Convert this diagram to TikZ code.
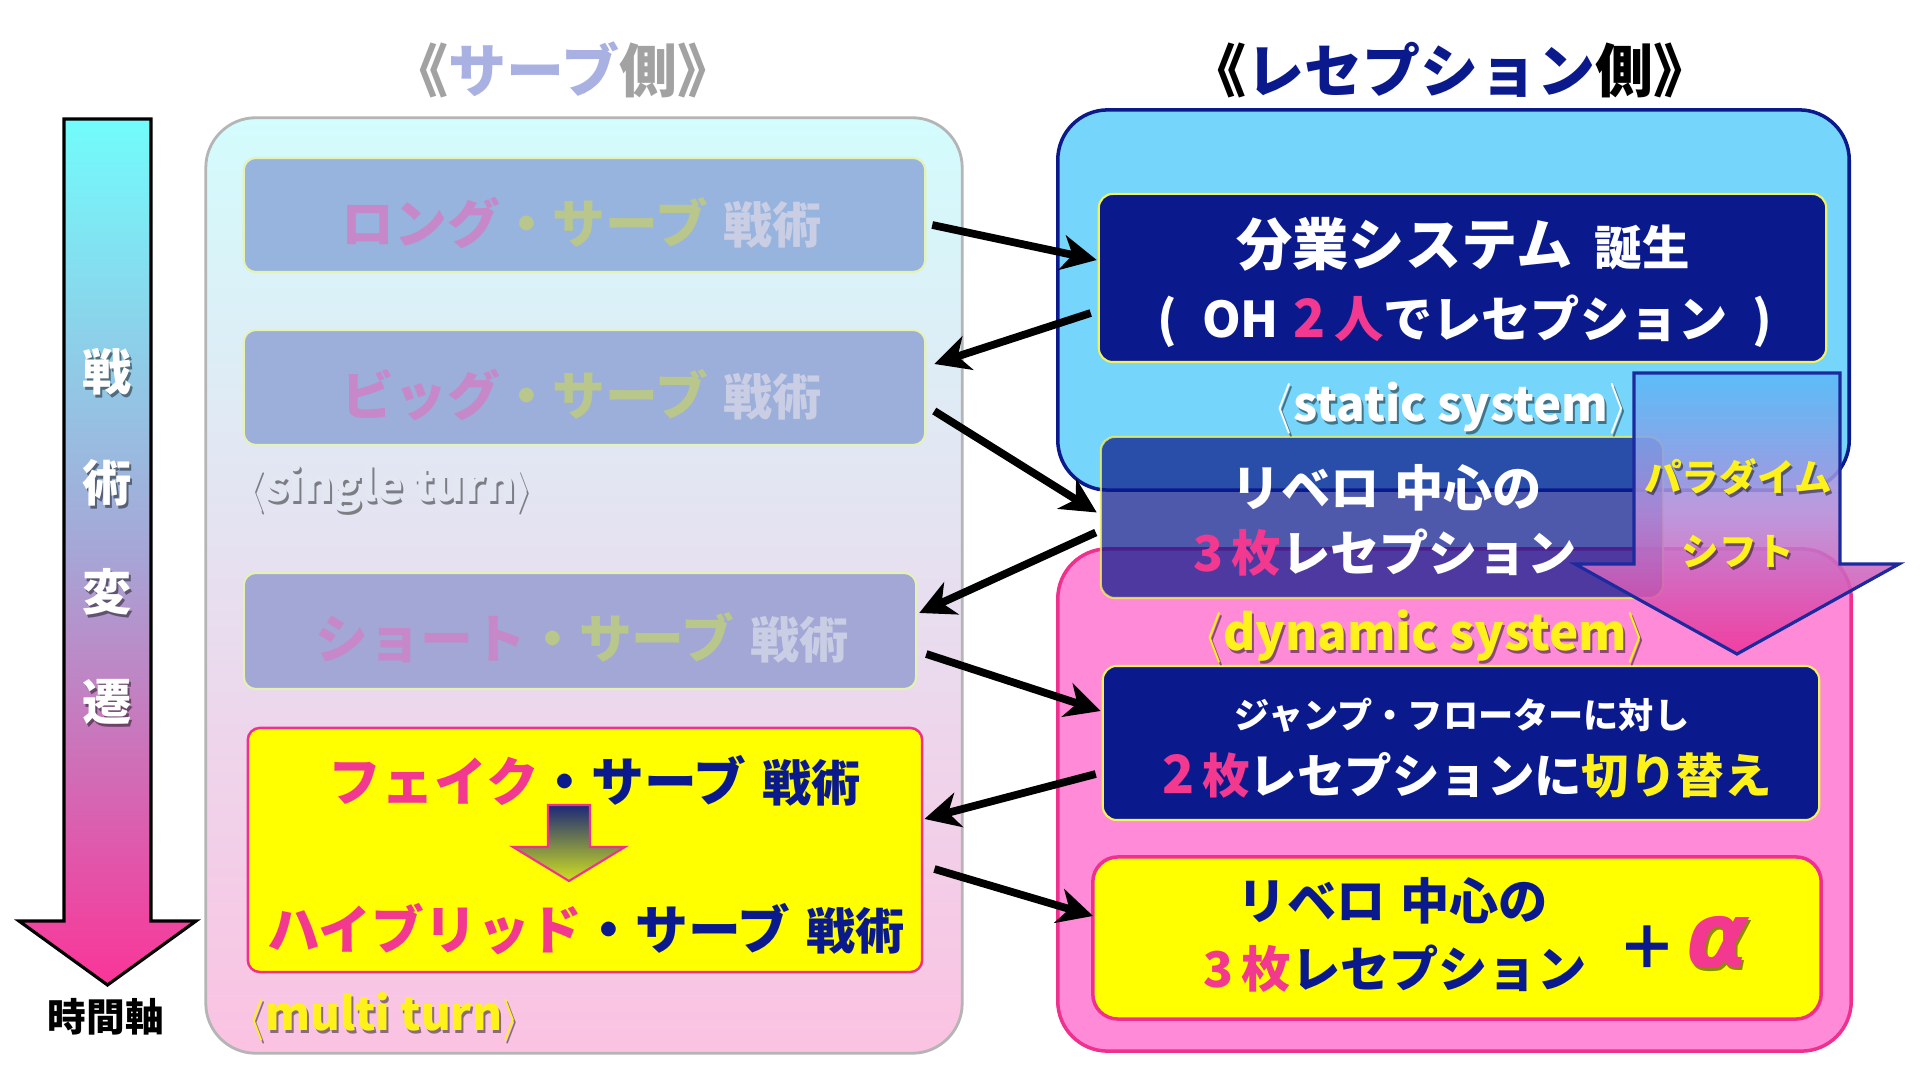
\documentclass[tikz,border=0pt]{standalone}
\usepackage{fontspec}
\setmainfont{Noto Sans CJK JP}
\newfontfamily\dejavu{DejaVu Sans}
\usetikzlibrary{arrows.meta}
\definecolor{navy}{HTML}{0A1A8C}
\definecolor{hotpink}{HTML}{F2388F}
\definecolor{yel}{HTML}{FFFF00}
\definecolor{ytext}{HTML}{FFF21A}
\definecolor{sky}{HTML}{76D5FB}
\definecolor{pinkbox}{HTML}{FF8AD8}
\definecolor{pinkedge}{HTML}{F0308E}
\definecolor{boxyedge}{HTML}{F2F25A}
\definecolor{paraedge}{HTML}{1C2A9E}
\definecolor{leftTop}{HTML}{D3FCFD}
\definecolor{leftBot}{HTML}{FBC2E2}
\definecolor{leftedge}{HTML}{B5B5B5}
\definecolor{fbA}{HTML}{97B4DE}
\definecolor{fbB}{HTML}{9CAEDA}
\definecolor{fbC}{HTML}{A2A7D6}
\definecolor{fbedge}{HTML}{E6F2B2}
\definecolor{fpink}{HTML}{C688C8}
\definecolor{folive}{HTML}{B9C68C}
\definecolor{fgray}{HTML}{C9CEE4}
\definecolor{tgray}{HTML}{A2A2A2}
\definecolor{tlav}{HTML}{A9B1E2}
\definecolor{axTop}{HTML}{72FCFC}
\definecolor{axMid}{HTML}{A6A6D6}
\definecolor{axBot}{HTML}{FA3598}
\definecolor{pTop}{HTML}{58BAF8}
\definecolor{pMid}{HTML}{B58AD8}
\definecolor{pBot}{HTML}{F0359A}
\definecolor{saTop}{HTML}{1C2878}
\definecolor{saBot}{HTML}{D0E020}
\definecolor{singlec}{HTML}{E3E7F2}
\newcommand\fsz[1]{\fontsize{#1}{#1}\selectfont}
\newcommand\shnode[6]{%
  \node[#4, text=black, text opacity=0.45] (#1-s) at ({#2+2},{#3+3}) {#6};
  \node[#4, text=#5] (#1) at (#2,#3) {#6};}
\begin{document}
\begin{tikzpicture}[x=0.01cm,y=-0.01cm,
  fadedbox/.style={rectangle,rounded corners=0.12cm,draw=fbedge,line width=0.6pt,inner sep=0},
  navybox/.style={rectangle,rounded corners=0.14cm,draw=boxyedge,line width=0.6pt,fill=navy,inner sep=0},
  bigpanel/.style={rectangle,rounded corners=0.5cm,inner sep=0},
  txt/.style={inner sep=0,font=\bfseries},
  conn/.style={-{Stealth[length=10pt,width=10pt,inset=3pt]},line width=2.2pt},
]
\useasboundingbox[fill=white] (0,0) rectangle (1920,1080);

% ---- left panel
\node[bigpanel,draw=leftedge,line width=0.8pt,top color=leftTop,bottom color=leftBot,
  minimum width=7.56cm,minimum height=9.35cm] (serve) at (584,585.5) {};

% time axis arrow
\path[draw=black,line width=0.9pt,top color=axTop,bottom color=axBot,middle color=axMid]
  (64,119) -- (151,119) -- (151,921) -- (196,921) -- (107.5,985) -- (19,921) -- (64,921) -- cycle;

\node[fadedbox,fill=fbA,minimum width=6.81cm,minimum height=1.14cm] (long) at (584.5,215) {};
\node[fadedbox,fill=fbB,minimum width=6.81cm,minimum height=1.15cm] (big) at (584.5,387.5) {};
\node[fadedbox,fill=fbC,minimum width=6.72cm,minimum height=1.16cm] (short) at (580,631) {};
\node[rectangle,rounded corners=0.12cm,draw=pinkedge,line width=0.7pt,fill=yel,inner sep=0,
  minimum width=6.74cm,minimum height=2.44cm] (fake) at (585,850) {};

% small arrow inside yellow box
\path[draw=pinkedge,line width=0.6pt,top color=saTop,bottom color=saBot]
  (548,805) -- (590,805) -- (590,847) -- (625,847) -- (569,881) -- (513,847) -- (548,847) -- cycle;

% ---- right panels
\node[bigpanel,draw=navy,line width=1pt,fill=sky,minimum width=7.91cm,minimum height=3.8cm] (static) at (1453.5,300) {};
\node[bigpanel,draw=pinkedge,line width=1pt,fill=pinkbox,minimum width=7.93cm,minimum height=5.02cm] (dynamic) at (1454.5,800) {};

\node[navybox,minimum width=7.27cm,minimum height=1.68cm] (bunsys) at (1462.5,278) {};
\node[rectangle,rounded corners=0.14cm,draw=boxyedge,draw opacity=0.8,line width=0.6pt,fill=navy,fill opacity=0.72,inner sep=0,
  minimum width=5.62cm,minimum height=1.61cm] (lib1) at (1382,517.5) {};
\node[navybox,minimum width=7.16cm,minimum height=1.54cm] (jump) at (1461,743) {};
\node[rectangle,rounded corners=0.25cm,draw=pinkedge,line width=1pt,fill=yel,inner sep=0,
  minimum width=7.28cm,minimum height=1.62cm] (lib2) at (1457,938) {};

% paradigm shift arrow
\path[draw=paraedge,line width=0.9pt,top color=pTop,bottom color=pBot,middle color=pMid,fill opacity=0.88]
  (1634,373) -- (1840,373) -- (1840,564) -- (1899,564) -- (1737,654) -- (1575,564) -- (1634,564) -- cycle;

% ---- titles
\node[txt,font=\bfseries\fsz{16.5}] (tleft) at (563,70) {\color{tgray}《\color{tlav}サーブ\color{tgray}側》};
\node[txt,font=\bfseries\fsz{16.5}] (tright) at (1450,70) {《\color{navy}レセプション\color{black}側》};

% ---- time axis labels
\shnode{ax1}{107}{372}{txt,font=\bfseries\fsz{14}}{white}{戦}
\shnode{ax2}{107}{483}{txt,font=\bfseries\fsz{14}}{white}{術}
\shnode{ax3}{107}{592}{txt,font=\bfseries\fsz{14}}{white}{変}
\shnode{ax4}{107}{702}{txt,font=\bfseries\fsz{14}}{white}{遷}
\node[txt,font=\bfseries\fsz{11}] (timeax) at (106,1017) {時間軸};

% ---- left texts
\node[txt] (longt) at (582,223) {\fsz{15}\color{fpink}ロング\color{folive}・サーブ\hspace{0.3em}\fsz{14}\color{fgray}戦術};
\node[txt] (bigt) at (582,395) {\fsz{15}\color{fpink}ビッグ\color{folive}・サーブ\hspace{0.3em}\fsz{14}\color{fgray}戦術};
\node[txt] (shortt) at (582,638) {\fsz{15}\color{fpink}ショート\color{folive}・サーブ\hspace{0.3em}\fsz{14}\color{fgray}戦術};
\node[txt] (faket) at (595,781) {\fsz{15}\color{hotpink}フェイク\color{navy}・サーブ\hspace{0.3em}\fsz{14}戦術};
\node[txt] (hybt) at (586,929) {\fsz{15}\color{hotpink}ハイブリッド\color{navy}・サーブ\hspace{0.3em}\fsz{14}戦術};
\shnode{single}{248}{488}{txt,anchor=west,font=\bfseries\fsz{13}}{singlec}{$\langle$single turn$\rangle$}
\shnode{multi}{248}{1017}{txt,anchor=west,font=\bfseries\fsz{13}}{ytext}{$\langle$multi turn$\rangle$}

% ---- right texts
\node[txt,text=white] (bun1) at (1463,244) {\fsz{16}分業システム\hspace{0.4em}\fsz{13.5}誕生};
\node[txt,text=white] (bun2) at (1465,321) {\fsz{14}(\hspace{0.5em}OH\hspace{0.3em}\color{hotpink}{\fsz{15}2}\,人\color{white}でレセプション\hspace{0.5em})};
\shnode{stat}{1451}{408}{txt,font=\bfseries\fsz{13.5}}{white}{$\langle$static system$\rangle$}
\node[txt,text=white] (lib1a) at (1387,488) {\fsz{14}リベロ\hspace{0.3em}中心の};
\node[txt,text=white] (lib1b) at (1385,553) {\fsz{14}\color{hotpink}3\,枚\color{white}レセプション};
\shnode{para1}{1738}{477}{txt,font=\bfseries\fsz{10.7}}{ytext}{パラダイム}
\shnode{para2}{1738}{552}{txt,font=\bfseries\fsz{10.7}}{ytext}{シフト}
\shnode{dyn}{1425}{636}{txt,font=\bfseries\fsz{14}}{ytext}{$\langle$dynamic system$\rangle$}
\node[txt,text=white] (jump1) at (1462,715) {\fsz{10}ジャンプ・フローターに対し};
\node[txt,text=white] (jump2) at (1467,775) {\fsz{13.5}\color{hotpink}{\fsz{15}2}\,枚\color{white}レセプションに\color{ytext}切り替え};
\node[txt,text=navy] (lib2a) at (1393,901) {\fsz{14}リベロ\hspace{0.3em}中心の};
\node[txt,text=navy] (lib2b) at (1395,969) {\fsz{14}\color{hotpink}3\,枚\color{navy}レセプション};
\node[txt,text=navy] (plus) at (1647,948) {\fsz{17}＋};
\shnode{alpha}{1718}{943}{inner sep=0,font=\dejavu\bfseries\itshape\fsz{26}}{hotpink}{α}

% ---- connectors
\draw[conn] ([xshift=0.06cm,yshift=-0.10cm]long.east) -- ([xshift=-0.01cm,yshift=0.18cm]bunsys.west);
\draw[conn] ([xshift=-0.07cm,yshift=-0.35cm]bunsys.west) -- ([xshift=0.08cm,yshift=0.235cm]big.east);
\draw[conn] ([xshift=0.08cm,yshift=-0.235cm]big.east) -- ([xshift=-0.03cm,yshift=0.05cm]lib1.west);
\draw[conn] ([xshift=-0.04cm,yshift=-0.15cm]lib1.west) -- ([xshift=0.02cm,yshift=0.18cm]short.east);
\draw[conn] ([xshift=0.09cm,yshift=-0.23cm]short.east) -- ([xshift=-0.01cm,yshift=0.32cm]jump.west);
\draw[conn] ([xshift=-0.06cm,yshift=-0.31cm]jump.west) -- ([xshift=0.01cm,yshift=0.31cm]fake.east);
\draw[conn] ([xshift=0.11cm,yshift=-0.19cm]fake.east) -- ([xshift=0.02cm,yshift=0.22cm]lib2.west);
\end{tikzpicture}
\end{document}
